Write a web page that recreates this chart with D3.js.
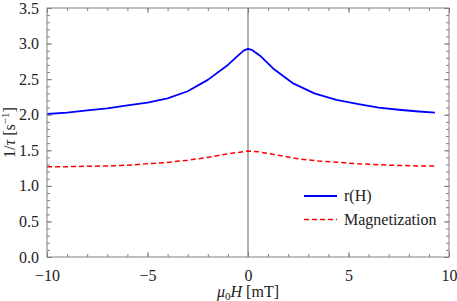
<!DOCTYPE html>
<html><head><meta charset="utf-8">
<script src="https://cdn.jsdelivr.net/npm/d3@7"></script>
<style>body{margin:0;background:#fff}svg{display:block}svg text{font-family:"Liberation Serif","Times New Roman",serif;fill:#222}</style>
</head><body><svg id="c" width="457" height="301"></svg>
<script>
const rField = [-10,-9,-8,-7,-6,-5,-4,-3,-2,-1,-0.5,-0.2,0,0.2,0.6,1.25,2.25,3.3,4.4,5.5,6.5,7.5,8.5,9.3];
const rValues = [2.01,2.03,2.06,2.09,2.13,2.17,2.23,2.33,2.49,2.70,2.83,2.905,2.925,2.91,2.83,2.65,2.44,2.30,2.21,2.15,2.10,2.07,2.045,2.03];
const mField = [-10,-9,-8,-7,-6,-5,-4,-3,-2,-1,0,0.5,1.5,2.5,3.5,4.5,5.5,7,8.5,9.3];
const mValues = [1.27,1.27,1.275,1.28,1.29,1.31,1.33,1.36,1.40,1.45,1.49,1.48,1.43,1.38,1.35,1.33,1.31,1.29,1.28,1.28];
const xTicks = [-10,-5,0,5,10];
const yTicks = [0,0.5,1,1.5,2,2.5,3,3.5];
const legendLabels = ["r(H)","Magnetization"];

const FONT = '"Liberation Serif","Times New Roman",serif';
const FS = 16;
const svg = d3.select("#c");
const L=47,R=449,T=8,B=257;
const x = d3.scaleLinear().domain([-10,10]).range([L,R]);
const y = d3.scaleLinear().domain([0,3.5]).range([B,T]);
const gray="#808080";

svg.append("line").attr("x1",x(0)).attr("x2",x(0)).attr("y1",T).attr("y2",B).attr("stroke","#999").attr("stroke-width",1.5);

const line = d3.line().x(d=>x(d[0])).y(d=>y(d[1]));
svg.append("path").datum(rField.map((f,i)=>[f,rValues[i]])).attr("d",line).attr("fill","none").attr("stroke","#0000ff").attr("stroke-width",1.8).attr("stroke-linejoin","round");
svg.append("path").datum(mField.map((f,i)=>[f,mValues[i]])).attr("d",line).attr("fill","none").attr("stroke","#ff0000").attr("stroke-width",1.5).attr("stroke-dasharray","5,3");

svg.append("rect").attr("x",L).attr("y",T).attr("width",R-L).attr("height",B-T).attr("fill","none").attr("stroke",gray).attr("stroke-width",1);

const xMinor = d3.range(-10,10.01,1);
const yMinor = d3.range(0,3.501,0.1);
const fmtMinus = v => (v<0?"\u2212":"")+Math.abs(v);
function axes(){
  const gs = [];
  gs.push(svg.append("g").attr("transform",`translate(0,${B})`)
    .call(d3.axisBottom(x).tickValues(xMinor).tickSize(-3).tickFormat("")));
  gs.push(svg.append("g").attr("transform",`translate(0,${B})`)
    .call(d3.axisBottom(x).tickValues(xTicks).tickSize(-5).tickPadding(13).tickFormat(fmtMinus)));
  gs.push(svg.append("g").attr("transform",`translate(0,${T})`)
    .call(d3.axisTop(x).tickValues(xMinor).tickSize(-3).tickFormat("")));
  gs.push(svg.append("g").attr("transform",`translate(0,${T})`)
    .call(d3.axisTop(x).tickValues(xTicks).tickSize(-5).tickFormat("")));
  gs.push(svg.append("g").attr("transform",`translate(${L},0)`)
    .call(d3.axisLeft(y).tickValues(yMinor).tickSize(-3).tickFormat("")));
  gs.push(svg.append("g").attr("transform",`translate(${L},0)`)
    .call(d3.axisLeft(y).tickValues(yTicks).tickSize(-5).tickPadding(8).tickFormat(d3.format(".1f"))));
  gs.push(svg.append("g").attr("transform",`translate(${R},0)`)
    .call(d3.axisRight(y).tickValues(yMinor).tickSize(-3).tickFormat("")));
  gs.push(svg.append("g").attr("transform",`translate(${R},0)`)
    .call(d3.axisRight(y).tickValues(yTicks).tickSize(-5).tickFormat("")));
  gs.forEach(g=>{
    g.attr("font-family",null).attr("font-size",FS);
    g.select(".domain").remove();
    g.selectAll(".tick line").attr("stroke",gray);
    g.selectAll("text").style("font-family",FONT).attr("font-size",FS).attr("fill","#222");
  });
}
axes();

const xl = svg.append("text").attr("x",x(0)).attr("y",297).attr("text-anchor","middle").attr("font-size",FS).style("font-family",FONT);
xl.append("tspan").attr("font-style","italic").text("\u03bc");
xl.append("tspan").attr("font-size",11).attr("dy",3).text("0");
xl.append("tspan").attr("font-style","italic").attr("dy",-3).text("H");
xl.append("tspan").text(" [mT]");

const yl = svg.append("text").attr("transform",`translate(15,${(T+B)/2}) rotate(-90)`).attr("text-anchor","middle").attr("font-size",FS).style("font-family",FONT);
yl.append("tspan").text("1/");
yl.append("tspan").attr("font-style","italic").text("\u03c4");
yl.append("tspan").text(" [s");
yl.append("tspan").attr("font-size",11).attr("dy",-6).text("\u22121");
yl.append("tspan").attr("dy",6).text("]");

const lg = svg.append("g");
const styles=[{c:"#0000ff",w:1.8,d:null},{c:"#ff0000",w:1.5,d:"5,3"}];
legendLabels.forEach((lab,i)=>{
  const yy = 196 + i*23.5;
  lg.append("line").attr("x1",304).attr("x2",337).attr("y1",yy).attr("y2",yy).attr("stroke",styles[i].c).attr("stroke-width",styles[i].w).attr("stroke-dasharray",styles[i].d);
  lg.append("text").attr("x",344).attr("y",yy+5).attr("font-size",FS).style("font-family",FONT).text(lab);
});
</script></body></html>
